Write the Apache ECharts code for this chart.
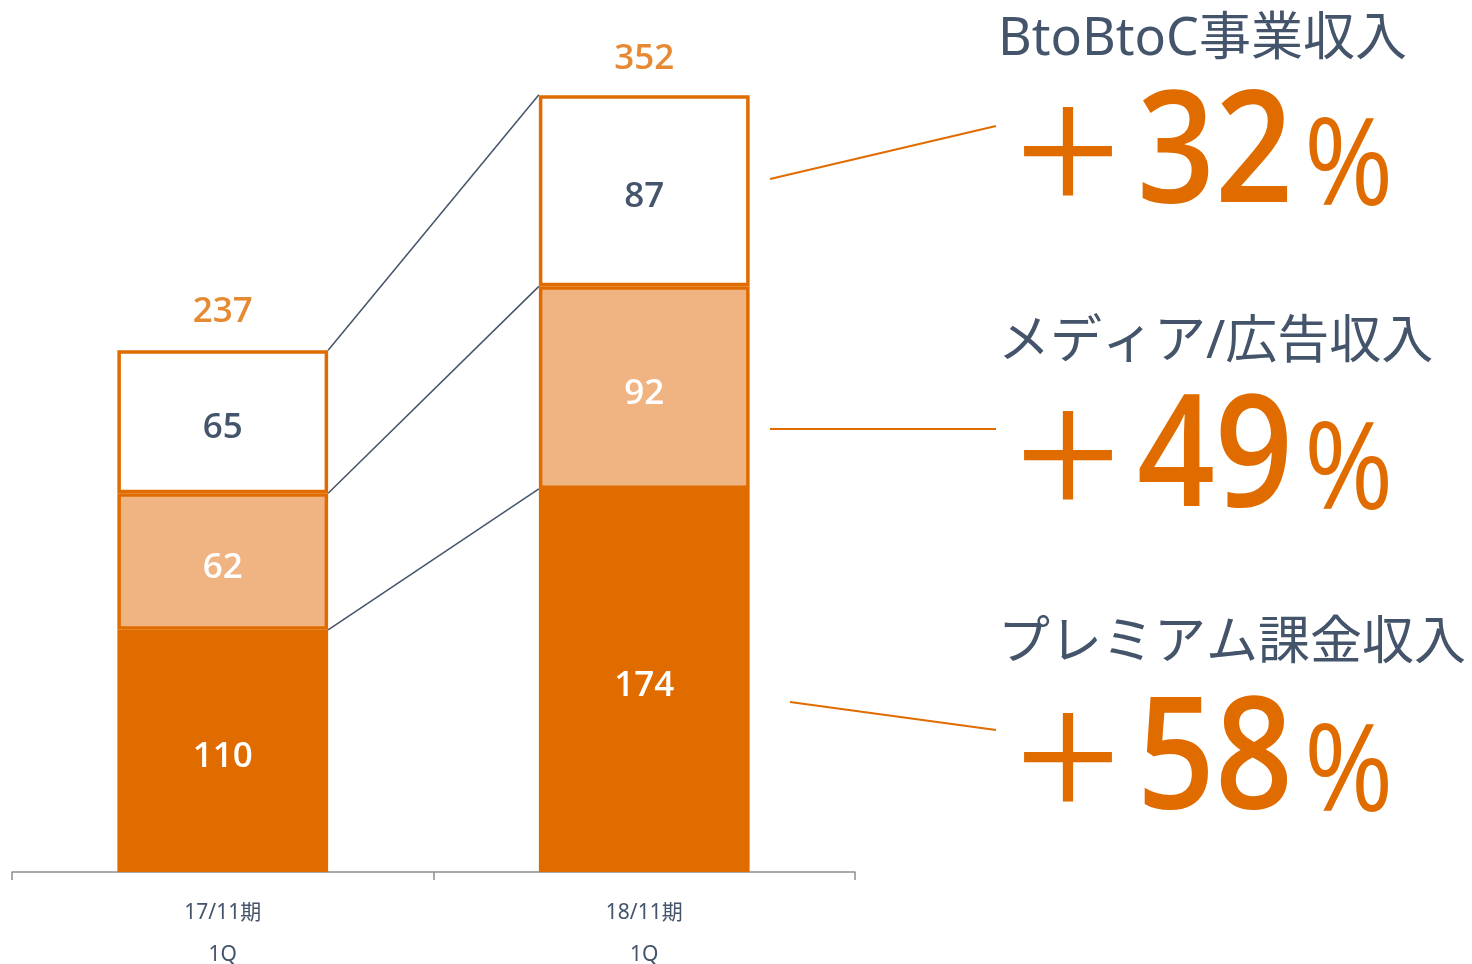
<!DOCTYPE html>
<html>
<head>
<meta charset="utf-8">
<script src="https://cdn.jsdelivr.net/npm/echarts@6/dist/echarts.min.js"></script>
<style>
  html, body { margin: 0; padding: 0; background: #ffffff; }
  #main { width: 1472px; height: 964px; }
</style>
</head>
<body>
<div id="main"></div>
<script>
// ---- data ----
const categories = ['17/11期\n1Q', '18/11期\n1Q'];
const premium = [110, 174];   // プレミアム課金収入
const media = [62, 92];       // メディア/広告収入
const btob = [65, 87];        // BtoBtoC事業収入
const totals = [237, 352];
const segmentNames = ['BtoBtoC事業収入', 'メディア/広告収入', 'プレミアム課金収入'];
const growth = ['32', '49', '58'];

// ---- styles ----
const ORANGE = '#E06C00';
const LIGHT = '#F0B482';
const SLATE = '#44546A';
const FONT = '"Noto Sans", "Noto Sans CJK JP", sans-serif';
const NUMFONT = '"Open Sans", "Noto Sans", sans-serif';
const BAR_RATIO = 0.5;

// cumulative boundaries for connector lines (bottom -> top)
const cumA = [premium[0], premium[0] + media[0], premium[0] + media[0] + btob[0]];
const cumB = [premium[1], premium[1] + media[1], premium[1] + media[1] + btob[1]];
const connectors = cumA.map((v, i) => [0, v, cumB[i]]);

const chart = echarts.init(document.getElementById('main'), null, { renderer: 'canvas' });

const valueLabel = (color) => ({
  show: true, position: 'inside', color: color,
  fontFamily: NUMFONT, fontSize: 35, fontWeight: 600, offset: [0, 6]
});

const titleY = [40, 343, 644];
const rowY = [148, 452, 754];
const leaders = [
  [770, 179, 996, 126],
  [770, 429, 996, 429],
  [790, 702, 996, 730]
];

const graphics = [];
segmentNames.forEach((name, i) => {
  graphics.push({
    type: 'text', x: 998, y: titleY[i], silent: true,
    style: { text: name, font: '52px ' + FONT, fill: SLATE,
      align: 'left', verticalAlign: 'middle', textAlign: 'left', textVerticalAlign: 'middle' }
  });
  graphics.push({
    type: 'text', x: 1068, y: rowY[i] + 3, silent: true,
    style: { text: '＋', font: '500 122px "Noto Sans CJK JP", sans-serif', fill: ORANGE,
      align: 'center', verticalAlign: 'middle', textAlign: 'center', textVerticalAlign: 'middle' }
  });
  graphics.push({
    type: 'text', x: 1137, y: rowY[i] + 10, scaleX: 0.88, silent: true,
    style: { text: growth[i], font: '600 155px ' + NUMFONT, fill: ORANGE,
      align: 'left', verticalAlign: 'middle', textAlign: 'left', textVerticalAlign: 'middle' }
  });
  graphics.push({
    type: 'text', x: 1304, y: rowY[i] + 23, scaleX: 0.9, silent: true,
    style: { text: '%', font: '500 120px ' + NUMFONT, fill: ORANGE,
      align: 'left', verticalAlign: 'middle', textAlign: 'left', textVerticalAlign: 'middle' }
  });
  const l = leaders[i];
  graphics.push({
    type: 'line', silent: true,
    shape: { x1: l[0], y1: l[1], x2: l[2], y2: l[3] },
    style: { stroke: ORANGE, lineWidth: 2 }
  });
});

const option = {
  backgroundColor: '#ffffff',
  animation: false,
  grid: { left: 12, right: 617, top: 97, bottom: 92, containLabel: false, outerBoundsMode: 'none' },
  xAxis: {
    type: 'category',
    data: categories,
    axisLine: { show: true, lineStyle: { color: '#8E8E8E', width: 1.5 } },
    axisTick: { show: true, length: 8, lineStyle: { color: '#8E8E8E', width: 1.5 } },
    axisLabel: { color: SLATE, fontFamily: FONT, fontSize: 21, lineHeight: 42, margin: 20 }
  },
  yAxis: {
    type: 'value', min: 0, max: 352,
    show: false, splitLine: { show: false }
  },
  series: [
    {
      name: segmentNames[2], type: 'bar', stack: 'rev', barWidth: (BAR_RATIO * 100) + '%',
      data: premium,
      itemStyle: { color: ORANGE, borderColor: ORANGE, borderWidth: 3 },
      label: valueLabel('#ffffff')
    },
    {
      name: segmentNames[1], type: 'bar', stack: 'rev',
      data: media,
      itemStyle: { color: LIGHT, borderColor: ORANGE, borderWidth: 3.5 },
      label: valueLabel('#ffffff')
    },
    {
      name: segmentNames[0], type: 'bar', stack: 'rev',
      data: btob,
      itemStyle: { color: '#ffffff', borderColor: ORANGE, borderWidth: 3.5 },
      label: valueLabel(SLATE)
    },
    {
      name: 'total', type: 'scatter', data: totals, symbolSize: 1,
      itemStyle: { color: 'rgba(0,0,0,0)' }, silent: true,
      label: { show: true, position: 'top', distance: 20, color: ORANGE,
        fontFamily: NUMFONT, fontSize: 35, fontWeight: 600 }
    },
    {
      name: 'connectors', type: 'custom', silent: true, z: 1,
      encode: { x: 0, y: [1, 2] },
      data: connectors,
      renderItem: function (params, api) {
        const band = api.size([1, 0])[0];
        const half = band * BAR_RATIO / 2;
        const p0 = api.coord([0, api.value(1)]);
        const p1 = api.coord([1, api.value(2)]);
        return {
          type: 'line',
          shape: { x1: p0[0] + half, y1: p0[1], x2: p1[0] - half, y2: p1[1] },
          style: { stroke: SLATE, lineWidth: 1.5 }
        };
      }
    }
  ],
  graphic: graphics
};

chart.setOption(option);
</script>
</body>
</html>
